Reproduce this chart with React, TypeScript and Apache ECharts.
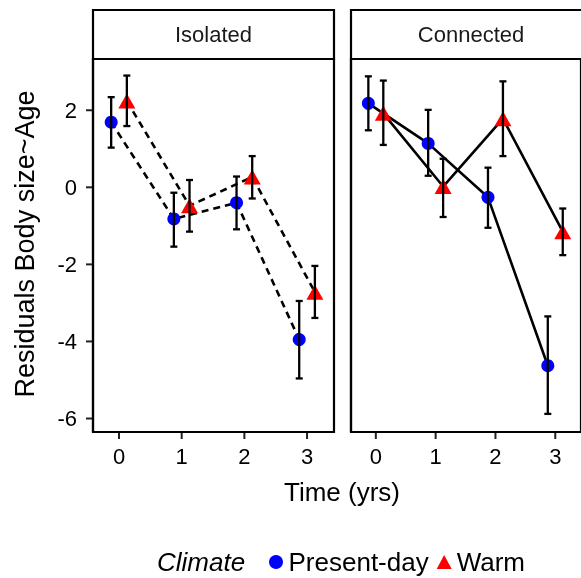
import React, { useEffect, useRef } from "react";
import * as echarts from "echarts";

// Time points (yrs)
const times = [0, 1, 2, 3];
const dodge = 0.125;

// Isolated panel
const isoPresentMean = [1.69, -0.82, -0.4, -3.95];
const isoPresentLow = [1.03, -1.54, -1.09, -4.96];
const isoPresentHigh = [2.34, -0.14, 0.28, -2.95];
const isoWarmMean = [2.24, -0.48, 0.27, -2.72];
const isoWarmLow = [1.59, -1.15, -0.29, -3.39];
const isoWarmHigh = [2.9, 0.19, 0.81, -2.04];

// Connected panel
const conPresentMean = [2.18, 1.14, -0.26, -4.63];
const conPresentLow = [1.48, 0.3, -1.05, -5.88];
const conPresentHigh = [2.88, 2.01, 0.51, -3.35];
const conWarmMean = [1.92, 0.02, 1.78, -1.15];
const conWarmLow = [1.1, -0.77, 0.81, -1.76];
const conWarmHigh = [2.77, 0.74, 2.75, -0.55];

const yTicks = [-6, -4, -2, 0, 2];
const xTicks = [0, 1, 2, 3];

const X_MIN = -0.415;
const X_MAX = 3.43;
const Y_MIN = -6.35;
const Y_MAX = 3.33;

const FONT = "Liberation Sans, Arial, sans-serif";

function pts(means: number[], off: number) {
  return times.map((t, i) => [t + off, means[i]]);
}
function bars(low: number[], high: number[], off: number) {
  return times.map((t, i) => [t + off, low[i], high[i]]);
}

const renderErr = (params: any, api: any) => {
  const x = api.value(0);
  const lo = api.coord([x, api.value(1)]);
  const hi = api.coord([x, api.value(2)]);
  const cap = 3.5;
  const st = { stroke: "#000", lineWidth: 2.3 };
  return {
    type: "group",
    children: [
      { type: "line", shape: { x1: lo[0], y1: lo[1], x2: hi[0], y2: hi[1] }, style: st },
      { type: "line", shape: { x1: lo[0] - cap, y1: lo[1], x2: lo[0] + cap, y2: lo[1] }, style: st },
      { type: "line", shape: { x1: hi[0] - cap, y1: hi[1], x2: hi[0] + cap, y2: hi[1] }, style: st },
    ],
  };
};

const TICK_LEN = 6;
const renderXTick = (params: any, api: any) => {
  const p = api.coord([api.value(0), Y_MIN]);
  return {
    type: "line",
    shape: { x1: p[0], y1: p[1] + 1, x2: p[0], y2: p[1] + 1 + TICK_LEN },
    style: { stroke: "#222", lineWidth: 2 },
  };
};
const renderYTick = (params: any, api: any) => {
  const p = api.coord([X_MIN, api.value(0)]);
  return {
    type: "line",
    shape: { x1: p[0] - 1, y1: p[1], x2: p[0] - 1 - TICK_LEN, y2: p[1] },
    style: { stroke: "#222", lineWidth: 2 },
  };
};

export default function App() {
  const ref = useRef<HTMLDivElement>(null);
  useEffect(() => {
    if (!ref.current) return;
    const chart = echarts.init(ref.current, null, { renderer: "svg" });
    const gridBase = {
      top: 59,
      width: 241,
      height: 373,
      show: true,
      borderColor: "#000",
      borderWidth: 2.2,
      backgroundColor: "transparent",
    };
    const xAxisBase = (gi: number) => ({
      type: "value",
      gridIndex: gi,
      position: "bottom",
      min: X_MIN,
      max: X_MAX,
      splitLine: { show: false },
      axisLine: { show: true, onZero: false, lineStyle: { color: "#000", width: 2.2 } },
      axisTick: { show: false },
      axisLabel: { show: true, customValues: xTicks, fontSize: 22, color: "#000", margin: 13, fontFamily: FONT },
    });
    const yAxisBase = (gi: number, showLab: boolean) => ({
      type: "value",
      gridIndex: gi,
      position: "left",
      min: Y_MIN,
      max: Y_MAX,
      splitLine: { show: false },
      axisLine: { show: true, onZero: false, lineStyle: { color: "#000", width: 2.2 } },
      axisTick: { show: false },
      axisLabel: { show: showLab, customValues: yTicks, fontSize: 22, color: "#000", margin: 16, fontFamily: FONT },
    });
    const lineSeries = (gi: number, data: number[][], dashed: boolean) => ({
      type: "line",
      xAxisIndex: gi,
      yAxisIndex: gi,
      data,
      symbol: "none",
      silent: true,
      z: 1,
      lineStyle: { color: "#000", width: 2.6, type: dashed ? [7, 5] : "solid" },
    });
    const scatterSeries = (gi: number, name: string, data: number[][]) => ({
      type: "scatter",
      name,
      xAxisIndex: gi,
      yAxisIndex: gi,
      data,
      symbol: name === "Warm" ? "triangle" : "circle",
      symbolSize: name === "Warm" ? [17, 15] : 13,
      itemStyle: { color: name === "Warm" ? "#FF0000" : "#0000FF", opacity: 1 },
      z: 2,
    });
    const errSeries = (gi: number, data: number[][]) => ({
      type: "custom",
      xAxisIndex: gi,
      yAxisIndex: gi,
      data,
      renderItem: renderErr,
      silent: true,
      z: 3,
    });
    const tickSeries = (gi: number, vals: number[], render: any) => ({
      type: "custom",
      xAxisIndex: gi,
      yAxisIndex: gi,
      data: vals.map((v) => [v]),
      encode: { x: render === renderXTick ? 0 : -1, y: render === renderYTick ? 0 : -1 },
      renderItem: render,
      clip: false,
      silent: true,
      z: 4,
    });
    chart.setOption({
      animation: false,
      textStyle: { fontFamily: FONT },
      grid: [
        { ...gridBase, left: 93 },
        { ...gridBase, left: 351 },
      ],
      xAxis: [xAxisBase(0), xAxisBase(1)],
      yAxis: [yAxisBase(0, true), yAxisBase(1, false)],
      legend: {
        left: 264,
        top: 544,
        itemWidth: 15,
        itemHeight: 14,
        itemGap: 8,
        selectedMode: false,
        textStyle: { fontSize: 26, color: "#000", fontFamily: FONT },
        data: [
          { name: "Present-day", icon: "circle" },
          { name: "Warm", icon: "triangle" },
        ],
      },
      graphic: [
        { type: "rect", shape: { x: 93, y: 10, width: 241, height: 49 }, style: { fill: "#fff", stroke: "#000", lineWidth: 2.2 } },
        { type: "rect", shape: { x: 351, y: 10, width: 241, height: 49 }, style: { fill: "#fff", stroke: "#000", lineWidth: 2.2 } },
        { type: "text", x: 213.5, y: 34, style: { text: "Isolated", fontSize: 22, fontFamily: FONT, fill: "#1a1a1a", align: "center", verticalAlign: "middle" } },
        { type: "text", x: 471, y: 34, style: { text: "Connected", fontSize: 22, fontFamily: FONT, fill: "#1a1a1a", align: "center", verticalAlign: "middle" } },
        { type: "text", x: 342, y: 492, style: { text: "Time (yrs)", fontSize: 26, fontFamily: FONT, fill: "#000", align: "center", verticalAlign: "middle" } },
        { type: "text", x: 25, y: 244, rotation: Math.PI / 2, style: { text: "Residuals Body size~Age", fontSize: 27, fontFamily: FONT, fill: "#000", align: "center", verticalAlign: "middle" } },
        { type: "text", x: 157, y: 562, style: { text: "Climate", fontSize: 26, fontStyle: "italic", fontFamily: FONT, fill: "#000", align: "left", verticalAlign: "middle" } },
      ],
      series: [
        lineSeries(0, pts(isoPresentMean, -dodge), true),
        lineSeries(0, pts(isoWarmMean, dodge), true),
        lineSeries(1, pts(conPresentMean, -dodge), false),
        lineSeries(1, pts(conWarmMean, dodge), false),
        scatterSeries(0, "Present-day", pts(isoPresentMean, -dodge)),
        scatterSeries(0, "Warm", pts(isoWarmMean, dodge)),
        scatterSeries(1, "Present-day", pts(conPresentMean, -dodge)),
        scatterSeries(1, "Warm", pts(conWarmMean, dodge)),
        errSeries(0, bars(isoPresentLow, isoPresentHigh, -dodge)),
        errSeries(0, bars(isoWarmLow, isoWarmHigh, dodge)),
        errSeries(1, bars(conPresentLow, conPresentHigh, -dodge)),
        errSeries(1, bars(conWarmLow, conWarmHigh, dodge)),
        tickSeries(0, xTicks, renderXTick),
        tickSeries(1, xTicks, renderXTick),
        tickSeries(0, yTicks, renderYTick),
      ],
    });
    return () => chart.dispose();
  }, []);
  return <div ref={ref} style={{ position: "fixed", left: 0, top: 0, width: 581, height: 578 }} />;
}
